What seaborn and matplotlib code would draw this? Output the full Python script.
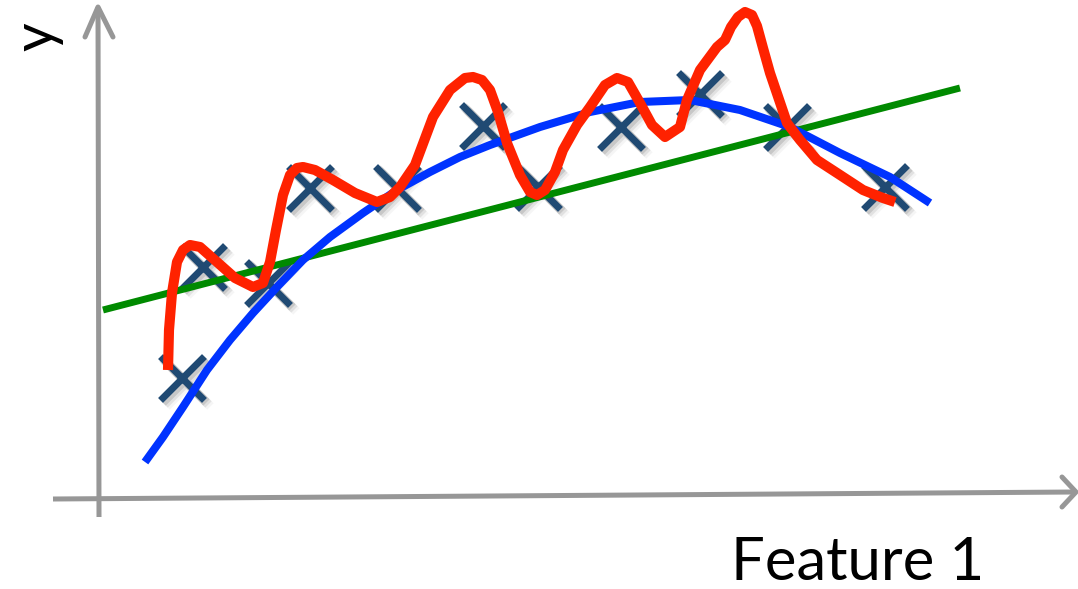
import matplotlib
matplotlib.use("Agg")
import matplotlib.pyplot as plt
import matplotlib.transforms as mtransforms
import seaborn as sns
import pandas as pd

sns.set_theme(style="white")
plt.rcParams["font.family"] = ["Lato", "DejaVu Sans"]

# ---- data (Feature 1 vs y) ----
pts_x = [8.3, 10.4, 16.9, 21.1, 29.8, 38.4, 43.9, 52.2, 60.1, 68.8, 78.6]
pts_y = [12.1, 23.2, 21.6, 31.1, 31.1, 37.3, 31.2, 37.2, 40.5, 37.2, 31.2]

# underfit: straight line
lin_x = [0.4, 86.1]
lin_y = [18.9, 41.1]

# good fit: smooth curve
good_x = [4.6, 6.4, 8.4, 10.8, 13.1, 15.4, 17.8, 20.4, 23.1, 26.4, 29.8, 33.1,
          36.1, 39.1, 44.1, 49.1, 54.1, 59.1, 64.1, 69.1, 74.1, 79.1, 83.1]
good_y = [3.7, 6.2, 9.2, 12.9, 15.9, 18.6, 21.2, 23.9, 26.2, 28.6, 30.9, 32.7,
          34.2, 35.4, 37.2, 38.7, 39.7, 39.9, 38.9, 37.2, 34.6, 32.2, 29.6]

# overfit: wiggly curve
over_x = [6.9, 7.0, 7.3, 7.8, 8.4, 9.1, 10.1, 11.8, 13.6, 15.4, 16.4, 17.1,
          17.7, 18.4, 19.1, 19.8, 20.4, 21.6, 23.4, 25.6, 27.8, 29.1, 30.1,
          31.6, 33.4, 35.1, 36.6, 37.4, 38.3, 39.1, 39.9, 40.8, 42.1, 43.1,
          43.8, 44.6, 45.6, 46.4, 47.8, 49.1, 50.6, 51.8, 52.9, 54.1, 55.3,
          56.6, 58.1, 58.8, 60.1, 61.8, 62.6, 63.2, 63.9, 64.6, 65.3, 65.8,
          66.4, 67.1, 68.8, 70.1, 71.8, 73.8, 76.4, 78.4, 79.6]
over_y = [12.9, 16.9, 20.6, 23.7, 24.9, 25.4, 25.2, 23.7, 22.1, 21.2, 21.6,
          23.7, 26.9, 30.4, 32.4, 33.1, 33.2, 32.9, 31.9, 30.6, 29.7, 30.2,
          31.2, 33.4, 38.2, 40.9, 42.1, 42.2, 41.9, 40.9, 38.7, 35.6, 32.4,
          30.7, 30.4, 30.9, 32.7, 34.9, 37.4, 39.2, 41.4, 42.1, 41.7, 39.6,
          37.4, 36.2, 37.2, 39.9, 42.9, 45.2, 45.9, 47.2, 48.2, 48.7, 48.4,
          47.3, 45.1, 42.6, 37.6, 35.9, 33.9, 32.6, 30.9, 30.1, 29.7]

x_label = "Feature 1"
y_label = "y"

df_pts = pd.DataFrame({"x": pts_x, "y": pts_y})
df_lin = pd.DataFrame({"x": lin_x, "y": lin_y})
df_good = pd.DataFrame({"x": good_x, "y": good_y})
df_over = pd.DataFrame({"x": over_x, "y": over_y})

fig = plt.figure(figsize=(10.78, 5.89), dpi=100)
ax = fig.add_axes([0, 0, 1, 1])
ax.set_xlim(-9.9, 97.9)
ax.set_ylim(-9.0, 49.9)
ax.axis("off")

gray = "#979797"
# axis arrows (decoration)
ax.plot([0.0, -0.1], [-1.8, 49.2], color=gray, lw=3.6, solid_capstyle="butt", zorder=1)
ax.plot([-1.4, -0.1, 1.4], [46.2, 49.2, 46.2], color=gray, lw=3.6,
        solid_capstyle="round", solid_joinstyle="round", zorder=1)
ax.plot([-4.6, 97.6], [0.0, 0.7], color=gray, lw=3.6, solid_capstyle="butt", zorder=1)
ax.plot([96.3, 97.7, 96.3], [2.2, 0.7, -0.8], color=gray, lw=3.6,
        solid_capstyle="round", solid_joinstyle="round", zorder=1)

# marker shadows
for dx, dy, a in [(2, -2, 0.18), (4, -4, 0.12), (6, -6, 0.06)]:
    tr = mtransforms.offset_copy(ax.transData, fig=fig, x=dx, y=dy, units="dots")
    ax.scatter(pts_x, pts_y, marker="x", s=1000, linewidths=6.5, color="#555555",
               alpha=a, transform=tr, zorder=2)

sns.scatterplot(data=df_pts, x="x", y="y", marker="x", s=1000, linewidth=5.0,
                color="#204A73", ax=ax, zorder=3, legend=False)

sns.lineplot(data=df_lin, x="x", y="y", color="#008A00", lw=5.0, ax=ax,
             zorder=4, legend=False)
sns.lineplot(data=df_good, x="x", y="y", color="#0033FF", lw=5.8, ax=ax,
             zorder=5, legend=False, sort=False)
sns.lineplot(data=df_over, x="x", y="y", color="#FF2200", lw=7.3, ax=ax,
             zorder=6, legend=False, sort=False)
for ln in ax.lines[-3:]:
    ln.set_solid_joinstyle("round")
    ln.set_solid_capstyle("butt")

ax.set_xlabel("")
ax.set_ylabel("")

fig.text(731 / 1078, 1 - 580 / 589, x_label, fontsize=43, color="black",
         ha="left", va="baseline")
fig.text(38 / 1078, 1 - 37 / 589, y_label, fontsize=40, color="black",
         ha="center", va="center", rotation=90)

fig.savefig("out.png", dpi=100)
